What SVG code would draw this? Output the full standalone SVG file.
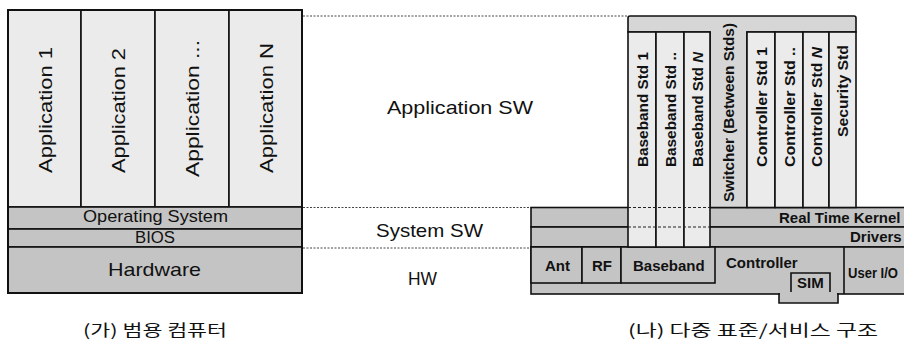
<svg xmlns="http://www.w3.org/2000/svg" width="904" height="342" viewBox="0 0 904 342">
<style>
.t{font-family:"Liberation Sans",Arial,sans-serif;fill:#111}
.b{font-family:"Liberation Sans",Arial,sans-serif;font-weight:bold;fill:#111;font-size:15px}
.k{font-family:"Noto Sans CJK KR",sans-serif;fill:#111;font-size:16px}
.lt{fill:#ebebeb;stroke:#111;stroke-width:1.6}
.md{fill:#c4c4c4;stroke:#111;stroke-width:1.6}
.hd{fill:#d6d6d6;stroke:#111;stroke-width:1.6}
.dot{stroke:#444;stroke-width:1;stroke-dasharray:2 1.5;fill:none}
.dash{stroke:#222;stroke-width:1.2;stroke-dasharray:3 2;fill:none}
</style>
<g id="guides">
<line class="dot" x1="303" y1="16" x2="628" y2="16"/>
<line class="dot" x1="303" y1="207.5" x2="531" y2="207.5"/>
<line class="dot" x1="303" y1="248" x2="531" y2="248"/>
</g>
<g id="general-computer">
<rect class="lt" x="8" y="10" width="73" height="197"/>
<rect class="lt" x="81" y="10" width="74" height="197"/>
<rect class="lt" x="155" y="10" width="74" height="197"/>
<rect class="lt" x="229" y="10" width="73" height="197"/>
<rect class="md" x="8" y="207" width="294" height="22"/>
<rect class="md" x="8" y="229" width="294" height="18"/>
<rect class="md" x="8" y="247" width="294" height="46"/>
<rect x="8" y="10" width="294" height="283" fill="none" stroke="#111" stroke-width="2"/>
<text class="t" font-size="19" text-anchor="middle" textLength="126" lengthAdjust="spacingAndGlyphs" transform="translate(51.5,110) rotate(-90)">Application 1</text>
<text class="t" font-size="19" text-anchor="middle" textLength="125" lengthAdjust="spacingAndGlyphs" transform="translate(125,110.5) rotate(-90)">Application 2</text>
<text class="t" font-size="19" text-anchor="middle" textLength="137" lengthAdjust="spacingAndGlyphs" transform="translate(199,108.5) rotate(-90)">Application ...</text>
<text class="t" font-size="19" text-anchor="middle" textLength="130" lengthAdjust="spacingAndGlyphs" transform="translate(272.5,108) rotate(-90)">Application N</text>
<text class="t" font-size="17" x="83" y="222" textLength="145" lengthAdjust="spacingAndGlyphs">Operating System</text>
<text class="t" font-size="16" x="135" y="243" textLength="40" lengthAdjust="spacingAndGlyphs">BIOS</text>
<text class="t" font-size="19" x="108" y="276" textLength="93" lengthAdjust="spacingAndGlyphs">Hardware</text>
</g>
<g id="layer-labels">
<text class="t" font-size="19" x="387" y="114" textLength="146" lengthAdjust="spacingAndGlyphs">Application SW</text>
<text class="t" font-size="19" x="376" y="237" textLength="107" lengthAdjust="spacingAndGlyphs">System SW</text>
<text class="t" font-size="18" x="408" y="285" textLength="29" lengthAdjust="spacingAndGlyphs">HW</text>
</g>
<g id="multi-standard">
<rect class="md" x="531" y="207.5" width="390" height="19.5"/>
<rect class="md" x="531" y="227" width="390" height="20"/>
<rect class="md" x="531" y="247" width="390" height="47"/>
<rect class="md" x="531" y="247" width="51" height="36"/>
<rect class="md" x="582" y="247" width="39" height="36"/>
<rect class="md" x="621" y="247" width="94" height="36"/>
<line x1="844" y1="247" x2="844" y2="294" stroke="#111" stroke-width="1.6"/>
<path class="md" d="M791,294 V273 H830 V294 H838 V303 H779 V294 Z"/>
<rect x="780" y="292" width="57" height="4" fill="#c4c4c4"/>
<rect x="792" y="292" width="37" height="4" fill="#c4c4c4"/>
<path class="hd" d="M628,32 V18 Q628,16 630,16 H854 Q856,16 856,18 V32 H747 V207.5 H710 V32 Z"/>
<rect class="lt" x="628" y="32" width="28" height="215"/>
<rect class="lt" x="656" y="32" width="28" height="215"/>
<rect class="lt" x="684" y="32" width="26" height="215"/>
<line class="dash" x1="628" y1="207.5" x2="710" y2="207.5"/>
<line class="dash" x1="628" y1="227" x2="710" y2="227"/>
<rect class="lt" x="747" y="32" width="28" height="175.5"/>
<rect class="lt" x="775" y="32" width="28" height="175.5"/>
<rect class="lt" x="803" y="32" width="26" height="175.5"/>
<rect class="lt" x="829" y="32" width="27" height="175.5"/>
<text class="b" textLength="115" lengthAdjust="spacingAndGlyphs" transform="translate(647.5,167) rotate(-90)">Baseband Std 1</text>
<text class="b" textLength="115" lengthAdjust="spacingAndGlyphs" transform="translate(675.5,167) rotate(-90)">Baseband Std ..</text>
<text class="b" textLength="115" lengthAdjust="spacingAndGlyphs" transform="translate(702.5,167) rotate(-90)">Baseband Std <tspan font-style="italic">N</tspan></text>
<text class="b" textLength="179" lengthAdjust="spacingAndGlyphs" transform="translate(733.5,202) rotate(-90)">Switcher (Between Stds)</text>
<text class="b" textLength="120" lengthAdjust="spacingAndGlyphs" transform="translate(766.5,167) rotate(-90)">Controller Std 1</text>
<text class="b" textLength="120" lengthAdjust="spacingAndGlyphs" transform="translate(794.5,167) rotate(-90)">Controller Std ..</text>
<text class="b" textLength="120" lengthAdjust="spacingAndGlyphs" transform="translate(821.5,167) rotate(-90)">Controller Std <tspan font-style="italic">N</tspan></text>
<text class="b" textLength="92" lengthAdjust="spacingAndGlyphs" transform="translate(848,137) rotate(-90)">Security Std</text>
<text class="b" x="779" y="223">Real Time Kernel</text>
<text class="b" x="850" y="242">Drivers</text>
<text class="b" x="545" y="271">Ant</text>
<text class="b" x="592" y="271">RF</text>
<text class="b" x="633" y="271">Baseband</text>
<text class="b" x="726" y="268">Controller</text>
<text class="b" x="797" y="288">SIM</text>
<text class="b" x="848" y="278" font-size="14" textLength="50" lengthAdjust="spacingAndGlyphs">User I/O</text>
</g>
<g id="captions">
<text class="k" x="83" y="336" textLength="144" lengthAdjust="spacingAndGlyphs">(가) 범용 컴퓨터</text>
<text class="k" x="628" y="336" textLength="250" lengthAdjust="spacingAndGlyphs">(나) 다중 표준/서비스 구조</text>
</g>
</svg>
